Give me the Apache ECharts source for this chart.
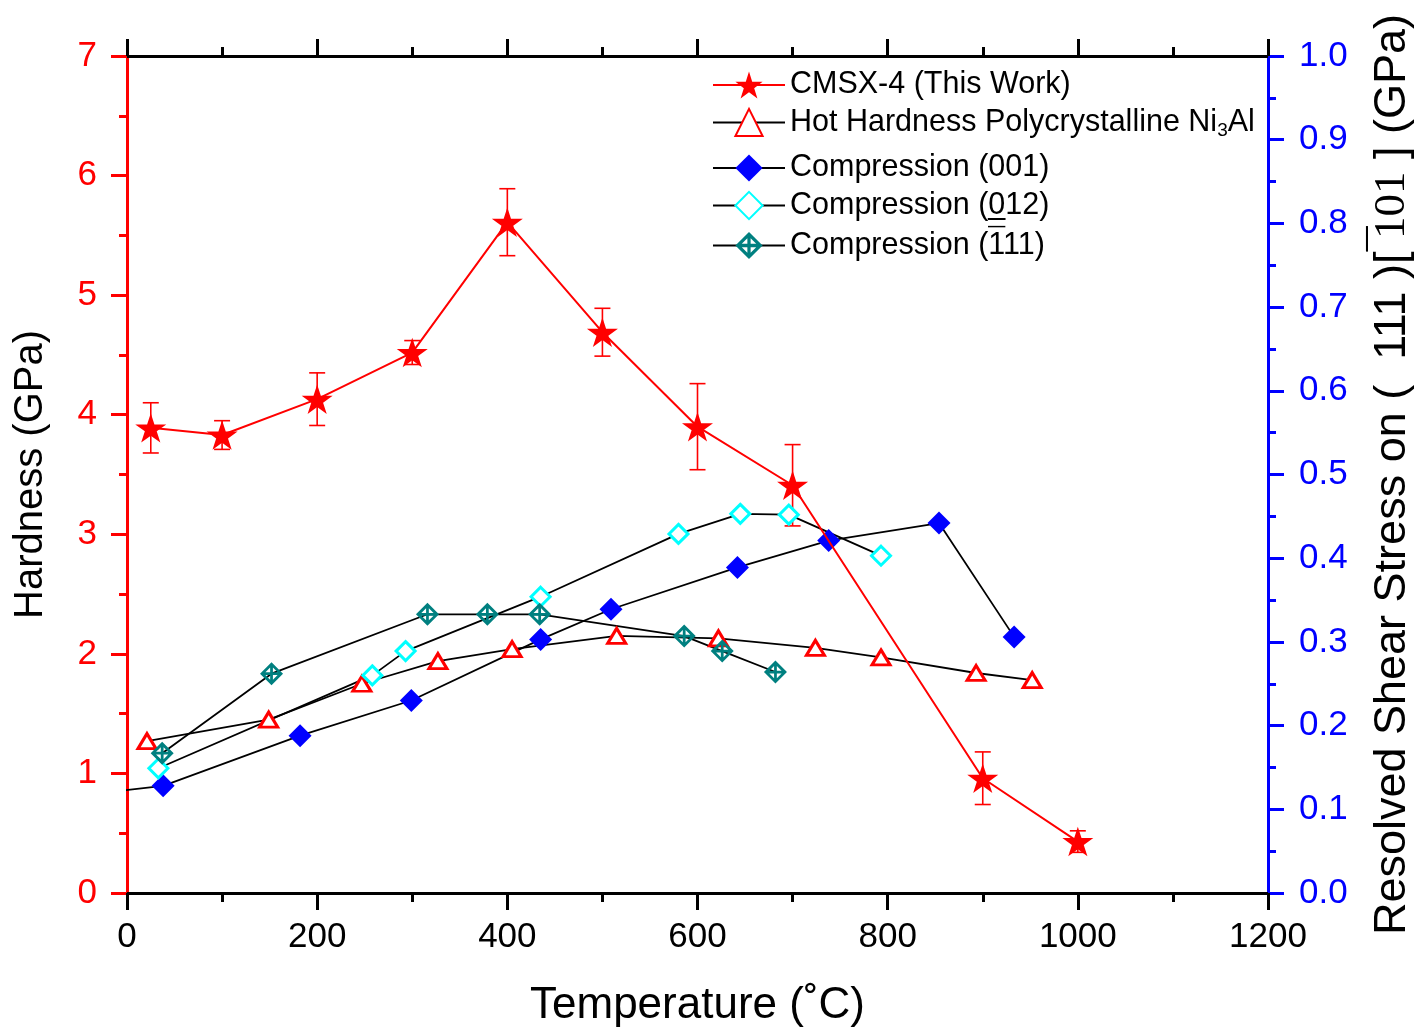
<!DOCTYPE html>
<html><head><meta charset="utf-8">
<script src="https://cdn.jsdelivr.net/npm/echarts@6/dist/echarts.min.js"></script>
<style>html,body{margin:0;padding:0;background:#fff}#c{width:1415px;height:1032px}</style>
</head><body><div id="c"></div>
<script>
// ---- data ----
const tempCMSX = [25, 100, 200, 300, 400, 500, 600, 700, 900, 1000];
const hardCMSX = [3.89, 3.83, 4.13, 4.52, 5.61, 4.69, 3.90, 3.41, 0.96, 0.43];
const errCMSX  = [0.21, 0.12, 0.22, 0.10, 0.28, 0.20, 0.36, 0.34, 0.22, 0.09];

const tempNi3Al = [21, 149, 247, 327, 405, 515, 622, 724, 793, 893, 952];
const hardNi3Al = [1.27, 1.45, 1.75, 1.94, 2.04, 2.15, 2.13, 2.05, 1.97, 1.84, 1.78];

const temp001 = [-196, 38, 182, 299, 435, 509, 642, 738, 854, 933];
const tau001  = [0.098, 0.128, 0.188, 0.230, 0.303, 0.339, 0.389, 0.421, 0.442, 0.306];

const temp012 = [33, 258, 293, 435, 580, 645, 696, 793];
const tau012  = [0.149, 0.260, 0.289, 0.354, 0.429, 0.453, 0.452, 0.403];

const temp111 = [37, 152, 316, 379, 434, 586, 626, 682];
const tau111  = [0.167, 0.262, 0.333, 0.333, 0.333, 0.307, 0.289, 0.264];

const seriesNames = ['CMSX-4 (This Work)', 'Hot Hardness Polycrystalline Ni3Al',
  'Compression (001)', 'Compression (012)', 'Compression (-111)'];

// ---- styling ----
const FONT = '"Liberation Sans", Arial, sans-serif';
const SERIF = '"Liberation Serif", "Times New Roman", serif';
const RED = '#ff0000', BLUE = '#0000ff', CYAN = '#00ffff', TEAL = '#008080';
const STAR = 'path://M0,-100 L22.45,-30.9 L95.1,-30.9 L36.33,11.8 L58.78,80.9 L0,38.2 L-58.78,80.9 L-36.33,11.8 L-95.1,-30.9 L-22.45,-30.9 Z';
const CROSSDIAMOND = 'path://M0,-10 L10,0 L0,10 L-10,0 Z ' +
  'M1.2,-1.2 L5.3,-1.2 L1.2,-5.3 Z M1.2,1.2 L1.2,5.3 L5.3,1.2 Z ' +
  'M-1.2,1.2 L-5.3,1.2 L-1.2,5.3 Z M-1.2,-1.2 L-1.2,-5.3 L-5.3,-1.2 Z';

const zip = (xs, ys) => xs.map((x, i) => [x, ys[i]]);

const chart = echarts.init(document.getElementById('c'), null, {renderer: 'canvas'});

const axisCommonX = {
  type: 'value', min: 0, max: 1200, interval: 200,
  splitLine: {show: false},
  axisLine: {show: true, onZero: false, lineStyle: {color: '#000', width: 3}},
  axisTick: {show: true, inside: false, length: 17, lineStyle: {color: '#000', width: 3}},
  minorTick: {show: true, splitNumber: 2, length: 9, lineStyle: {color: '#000', width: 3}},
};

const LF = 30.5;
const legendText = {
  fontSize: LF, color: '#000', fontFamily: FONT, lineHeight: 34,
  rich: {
    n: {fontSize: LF, fontFamily: FONT, color: '#000', lineHeight: 34},
    s: {fontSize: 19, fontFamily: FONT, color: '#000', lineHeight: 18, padding: [16, 0, 0, 0]},
    ov: {fontSize: LF, fontFamily: FONT, color: '#000', width: 0, lineHeight: 34, padding: [0, 0, 8, 0]},
    un: {fontSize: LF, fontFamily: FONT, color: '#000', width: 0, lineHeight: 34}
  }
};
const legendFormatter = function (name) {
  if (name === seriesNames[1]) return '{n|Hot Hardness Polycrystalline Ni}{s|3}{n|Al}';
  if (name === seriesNames[3]) return '{n|Compression (}{un|_}{n|012)}';
  if (name === seriesNames[4]) return '{n|Compression (}{ov|\u00AF}{n|111)}';
  return '{n|' + name + '}';
};

const option = {
  backgroundColor: '#fff',
  animation: false,
  textStyle: {fontFamily: FONT},
  grid: {left: 127, right: 147, top: 56, bottom: 139, containLabel: false, outerBoundsMode: 'none'},
  legend: [
    {
      data: [seriesNames[0], seriesNames[1]],
      orient: 'vertical', left: 712, top: 68, padding: 0,
      itemWidth: 72, itemHeight: 34, itemGap: 3,
      textStyle: legendText, formatter: legendFormatter,
      selectedMode: false
    },
    {
      data: [seriesNames[2], seriesNames[3], seriesNames[4]],
      orient: 'vertical', left: 712, top: 151, padding: 0,
      itemWidth: 72, itemHeight: 34, itemGap: 3.5,
      textStyle: legendText, formatter: legendFormatter,
      selectedMode: false
    }
  ],
  xAxis: [
    Object.assign({}, axisCommonX, {
      position: 'bottom',
      axisLabel: {fontSize: 35, color: '#000', margin: 27, fontFamily: FONT,
        formatter: v => String(v)},
      name: 'Temperature (\u02DAC)', nameLocation: 'middle', nameGap: 91,
      nameTextStyle: {fontSize: 44, color: '#000', fontFamily: FONT}
    }),
    Object.assign({}, axisCommonX, {
      position: 'top',
      axisLabel: {show: false}
    })
  ],
  yAxis: [
    {
      type: 'value', min: 0, max: 7, interval: 1, position: 'left',
      splitLine: {show: false},
      axisLine: {show: true, onZero: false, lineStyle: {color: RED, width: 3}},
      axisTick: {show: true, inside: false, length: 16, lineStyle: {color: RED, width: 3}},
      minorTick: {show: true, splitNumber: 2, length: 8, lineStyle: {color: RED, width: 3}},
      axisLabel: {fontSize: 35, color: RED, margin: 30, fontFamily: FONT},
      name: 'Hardness (GPa)', nameLocation: 'middle', nameGap: 76,
      nameTextStyle: {fontSize: 40, color: '#000', fontFamily: FONT}
    },
    {
      type: 'value', min: 0, max: 1, interval: 0.1, position: 'right',
      splitLine: {show: false},
      axisLine: {show: true, onZero: false, lineStyle: {color: BLUE, width: 3}},
      axisTick: {show: true, inside: false, length: 16, lineStyle: {color: BLUE, width: 3}},
      minorTick: {show: true, splitNumber: 2, length: 8, lineStyle: {color: BLUE, width: 3}},
      axisLabel: {fontSize: 35, color: BLUE, margin: 31, fontFamily: FONT,
        formatter: v => v.toFixed(1)},
      name: '{a|Resolved Shear Stress on (  111 )[ }{bo|\u00AF}{b|101}{a| ] (GPa)}',
      nameLocation: 'middle', nameGap: 97,
      nameTextStyle: {
        fontSize: 45, color: '#000', fontFamily: FONT,
        rich: {
          a: {fontSize: 45, color: '#000', fontFamily: FONT},
          b: {fontSize: 45, color: '#000', fontFamily: SERIF},
          bo: {fontSize: 45, color: '#000', fontFamily: FONT, width: 0, padding: [0, 0, 10, 0]}
        }
      }
    }
  ],
  series: [
    {
      type: 'custom', name: 'errbars', xAxisIndex: 0, yAxisIndex: 0, z: 3, silent: true,
      data: tempCMSX.map((t, i) => [t, hardCMSX[i] - errCMSX[i], hardCMSX[i] + errCMSX[i]]),
      encode: {x: 0, y: [1, 2]},
      renderItem: function (params, api) {
        const lo = api.coord([api.value(0), api.value(1)]);
        const hi = api.coord([api.value(0), api.value(2)]);
        const w = 8, st = {stroke: RED, lineWidth: 1.6};
        return {type: 'group', children: [
          {type: 'line', shape: {x1: lo[0], y1: lo[1], x2: hi[0], y2: hi[1]}, style: st},
          {type: 'line', shape: {x1: lo[0] - w, y1: lo[1], x2: lo[0] + w, y2: lo[1]}, style: st},
          {type: 'line', shape: {x1: hi[0] - w, y1: hi[1], x2: hi[0] + w, y2: hi[1]}, style: st}
        ]};
      }
    },
    {
      type: 'line', name: seriesNames[1], xAxisIndex: 0, yAxisIndex: 0, z: 4,
      data: zip(tempNi3Al, hardNi3Al),
      symbol: 'triangle', symbolSize: [18, 15],
      lineStyle: {color: '#000', width: 1.8},
      itemStyle: {color: '#fff', borderColor: RED, borderWidth: 3}
    },
    {
      type: 'line', name: seriesNames[2], xAxisIndex: 0, yAxisIndex: 1, z: 4,
      data: zip(temp001, tau001),
      symbol: 'diamond', symbolSize: 23,
      lineStyle: {color: '#000', width: 1.8},
      itemStyle: {color: BLUE}
    },
    {
      type: 'line', name: seriesNames[3], xAxisIndex: 0, yAxisIndex: 1, z: 4,
      data: zip(temp012, tau012),
      symbol: 'diamond', symbolSize: 19,
      lineStyle: {color: '#000', width: 1.8},
      itemStyle: {color: '#fff', borderColor: CYAN, borderWidth: 3}
    },
    {
      type: 'line', name: seriesNames[4], xAxisIndex: 0, yAxisIndex: 1, z: 4,
      data: zip(temp111, tau111),
      symbol: CROSSDIAMOND, symbolSize: 23,
      lineStyle: {color: '#000', width: 1.8},
      itemStyle: {color: TEAL}
    },
    {
      type: 'line', name: seriesNames[0], xAxisIndex: 0, yAxisIndex: 0, z: 5,
      data: zip(tempCMSX, hardCMSX),
      symbol: STAR, symbolSize: 31, symbolKeepAspect: true,
      lineStyle: {color: RED, width: 2},
      itemStyle: {color: RED}
    }
  ]
};
chart.setOption(option);
</script>
</body></html>
